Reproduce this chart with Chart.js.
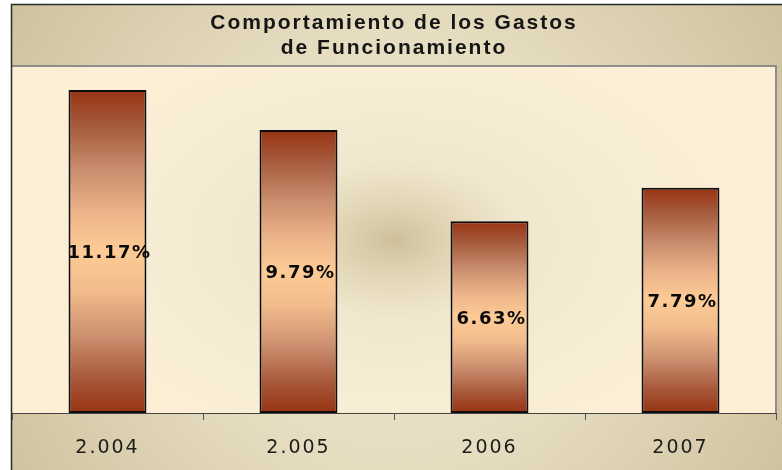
<!DOCTYPE html>
<html lang="es">
<head>
<meta charset="utf-8">
<title>Comportamiento de los Gastos de Funcionamiento</title>
<script src="https://cdn.jsdelivr.net/npm/chart.js@4.4.0/dist/chart.umd.min.js"></script>
<style>
  html, body { margin: 0; padding: 0; background: #fff; }
  #wrap { width: 782px; height: 470px; }
</style>
</head>
<body>
<div id="wrap"><canvas id="gastosChart" width="782" height="470"></canvas></div>
<script>
// ===============================
// Data
// ===============================
const years = ["2.004", "2.005", "2006", "2007"];
const gastos = [11.17, 9.79, 6.63, 7.79];
const titleLines = ["Comportamiento de los Gastos", "de Funcionamiento"];

// ===============================
// Background + frame plugin
// ===============================
const framePlugin = {
  id: "frame",
  beforeDraw(chart) {
    const { ctx, chartArea: a } = chart;
    ctx.save();
    ctx.fillStyle = "#fff";
    ctx.fillRect(0, 0, chart.width, chart.height);

    // tan chart background
    const bg = ctx.createRadialGradient(395, 250, 10, 395, 250, 470);
    bg.addColorStop(0, "#f1e9d2");
    bg.addColorStop(0.45, "#e6dcc0");
    bg.addColorStop(1, "#cdc09c");
    ctx.fillStyle = bg;
    ctx.fillRect(11, 4.5, chart.width - 11, chart.height);

    // plot area with soft dark spot in the middle
    ctx.fillStyle = "#fdefd5";
    ctx.fillRect(a.left, a.top, a.right - a.left, a.bottom - a.top);
    ctx.save();
    ctx.beginPath();
    ctx.rect(a.left, a.top, a.right - a.left, a.bottom - a.top);
    ctx.clip();
    ctx.translate(394, 240);
    ctx.scale(1.3, 0.8);
    const spot = ctx.createRadialGradient(0, 0, 0, 0, 0, 330);
    spot.addColorStop(0, "rgba(206,192,155,1)");
    spot.addColorStop(0.12, "rgba(220,208,175,0.9)");
    spot.addColorStop(0.3, "rgba(236,228,204,0.7)");
    spot.addColorStop(0.7, "rgba(245,236,214,0.5)");
    spot.addColorStop(1, "rgba(253,239,213,0)");
    ctx.fillStyle = spot;
    ctx.fillRect(-400, -400, 800, 800);
    ctx.restore();

    // plot borders (top / right)
    ctx.strokeStyle = "#8e8e8e";
    ctx.lineWidth = 2;
    ctx.beginPath();
    ctx.moveTo(a.left, a.top);
    ctx.lineTo(a.right, a.top);
    ctx.lineTo(a.right, a.bottom);
    ctx.stroke();

    // outer frame
    ctx.strokeStyle = "#2a2a2a";
    ctx.lineWidth = 1.5;
    ctx.beginPath();
    ctx.moveTo(11.5, chart.height);
    ctx.lineTo(11.5, 4.5);
    ctx.lineTo(chart.width, 4.5);
    ctx.stroke();
    ctx.restore();

    // spaced lettering for title and axis labels
    ctx.letterSpacing = "2px";
  },
};

// ===============================
// Value labels inside bars
// ===============================
const valueLabels = {
  id: "valueLabels",
  afterDatasetsDraw(chart) {
    const { ctx } = chart;
    const meta = chart.getDatasetMeta(0);
    ctx.save();
    ctx.letterSpacing = "1.5px";
    ctx.font = "bold 18px 'DejaVu Sans'";
    ctx.fillStyle = "#0a0a0a";
    ctx.textAlign = "center";
    ctx.textBaseline = "middle";
    meta.data.forEach((bar, i) => {
      const y = (bar.y + bar.base) / 2 + 2;
      ctx.fillText(gastos[i].toFixed(2) + "%", bar.x + 2, y);
    });
    ctx.restore();
  },
};

// ===============================
// Bar gradient
// ===============================
function barGradient(context) {
  const chart = context.chart;
  const { chartArea, scales } = chart;
  if (!chartArea || !scales.y) return "#d08a60";
  const top = scales.y.getPixelForValue(context.raw);
  const bottom = scales.y.getPixelForValue(0);
  const g = chart.ctx.createLinearGradient(0, top, 0, bottom);
  g.addColorStop(0, "#973312");
  g.addColorStop(0.1, "#a4573a");
  g.addColorStop(0.25, "#c98e6e");
  g.addColorStop(0.38, "#ecb48a");
  g.addColorStop(0.5, "#fdcb96");
  g.addColorStop(0.62, "#f2bc8d");
  g.addColorStop(0.76, "#cc9070");
  g.addColorStop(0.9, "#a65638");
  g.addColorStop(1, "#973312");
  return g;
}

// ===============================
// Chart
// ===============================
new Chart(document.getElementById("gastosChart"), {
  type: "bar",
  data: {
    labels: years,
    datasets: [
      {
        data: gastos,
        backgroundColor: barGradient,
        borderColor: "#0d0d0d",
        borderWidth: 2,
        borderSkipped: false,
        categoryPercentage: 1,
        barPercentage: 0.408,
      },
    ],
  },
  options: {
    responsive: false,
    animation: false,
    layout: { padding: { left: 12, right: 6, top: 5, bottom: 0 } },
    plugins: {
      legend: { display: false },
      tooltip: { enabled: false },
      title: {
        display: true,
        text: titleLines,
        color: "#151515",
        font: { family: "'Liberation Sans', Arial, sans-serif", size: 21, weight: "bold", lineHeight: "25px" },
        padding: { top: 6, bottom: 5 },
      },
    },
    scales: {
      x: {
        offset: true,
        grid: {
          offset: true,
          drawOnChartArea: false,
          drawTicks: true,
          tickLength: 7,
          color: "#555",
        },
        border: { display: true, color: "#444", width: 1 },
        ticks: {
          color: "#1c1c1c",
          font: { family: "'DejaVu Sans'", size: 19 },
          padding: 17,
        },
        afterFit: (scale) => {
          scale.height = 57;
        },
      },
      y: {
        display: false,
        min: 0,
        max: 12,
      },
    },
  },
  plugins: [framePlugin, valueLabels],
});
</script>
</body>
</html>
